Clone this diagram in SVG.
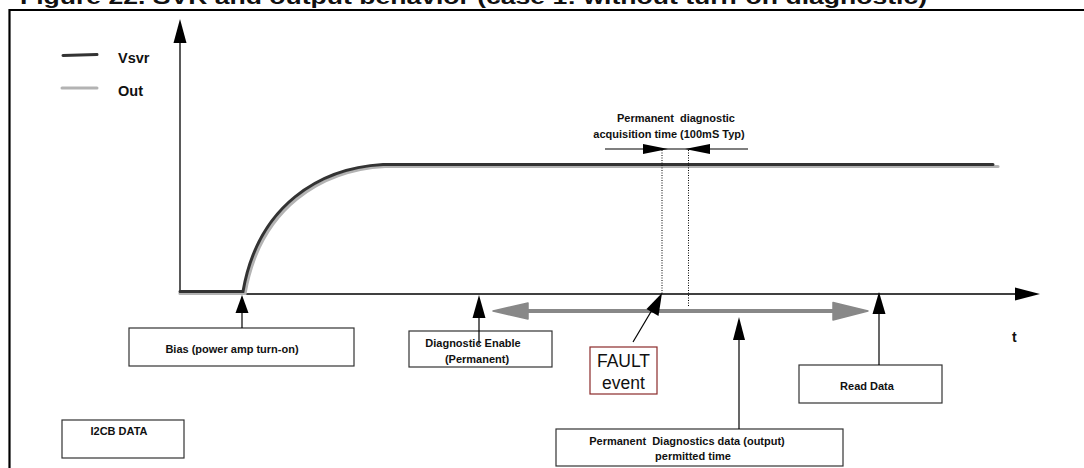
<svg xmlns="http://www.w3.org/2000/svg" width="1084" height="468" viewBox="0 0 1084 468">
<style>
.t{font-family:"Liberation Sans",Arial,sans-serif;font-weight:bold;fill:#111}
.box{fill:#fff;stroke:#333;stroke-width:1.2}
.ax{stroke:#000;stroke-width:1.3;fill:none}
.ptr{stroke:#000;stroke-width:1.2;fill:none}
.dot{stroke:#000;stroke-width:1;stroke-dasharray:1 1.5;fill:none}
</style>
<rect width="1084" height="468" fill="#fff"/>
<text class="t" x="20" y="3.5" font-size="20" textLength="907" lengthAdjust="spacingAndGlyphs">Figure 22. SVR and output behavior (case 1: without turn-on diagnostic)</text>
<path d="M9.5,468 V10 H1084" fill="none" stroke="#000" stroke-width="2.2"/>

<g id="legend">
<path d="M63,55.5 Q80,55 97,54.5" stroke="#333" stroke-width="3" fill="none" stroke-linecap="round"/>
<text class="t" x="118" y="63" font-size="14.5">Vsvr</text>
<path d="M62,88 H97" stroke="#b3b3b3" stroke-width="3" fill="none" stroke-linecap="round"/>
<text class="t" x="118" y="96" font-size="14.5">Out</text>
</g>

<g id="axes">
<path class="ax" d="M180,294 V40"/>
<polygon points="180,19 173.5,43 186.5,43" fill="#000"/>
<path class="ax" d="M180,294 H1016"/>
<polygon points="1040,294 1015,287.5 1015,300.5" fill="#000"/>
<text class="t" x="1012" y="342" font-size="14">t</text>
</g>

<g id="curves">
<path d="M180,293.5 H245 C260,207 322,170 385,166.5 H998" fill="none" stroke="#b3b3b3" stroke-width="3.2" stroke-linecap="round"/>
<path d="M180,291.5 H243 C258,205 320,168 383,164.5 H993" fill="none" stroke="#333" stroke-width="3" stroke-linecap="round"/>
</g>

<g id="acq">
<text class="t" x="676" y="122" font-size="11" text-anchor="middle">Permanent&#160; diagnostic</text>
<text class="t" x="669" y="138" font-size="11" text-anchor="middle">acquisition time (100mS Typ)</text>
<path d="M605,149 H748" stroke="#555" stroke-width="1.4"/>
<polygon points="668,149 643,144 643,154" fill="#000"/>
<polygon points="685,149 710,144 710,154" fill="#000"/>
<path class="dot" d="M662,150 V294"/>
<path class="dot" d="M688.5,150 V306"/>
</g>

<g id="window">
<path d="M522,311 H840" stroke="#888" stroke-width="4"/>
<polygon points="493,311 528,303 528,319" fill="#888" stroke="#888" stroke-width="1.5" stroke-linejoin="round"/>
<polygon points="868,311 833,302.5 833,320" fill="#888" stroke="#888" stroke-width="1.5" stroke-linejoin="round"/>
</g>

<g id="bias">
<rect class="box" x="129" y="328" width="225" height="38"/>
<text class="t" x="232" y="353" font-size="11" text-anchor="middle">Bias (power amp turn-on)</text>
<path class="ptr" d="M242,328 V310"/>
<polygon points="242,295 235.5,313 248.5,313" fill="#000"/>
</g>

<g id="diag-enable">
<rect class="box" x="409" y="331" width="143" height="36"/>
<text class="t" x="473" y="347" font-size="11" text-anchor="middle">Diagnostic Enable</text>
<text class="t" x="477" y="363" font-size="11" text-anchor="middle">(Permanent)</text>
<path class="ptr" d="M479,345 V312"/>
<polygon points="479,295 472.5,318 485.5,318" fill="#000"/>
</g>

<g id="fault">
<rect x="590" y="347" width="67" height="47" fill="#fff" stroke="#8b2a2a" stroke-width="1.2"/>
<text x="623.5" y="367" font-family="Liberation Sans,Arial,sans-serif" font-size="17.5" text-anchor="middle" fill="#111">FAULT</text>
<text x="623.5" y="389" font-family="Liberation Sans,Arial,sans-serif" font-size="17.5" text-anchor="middle" fill="#111">event</text>
<path class="ptr" d="M633,342 L652,310"/>
<polygon points="662,293 646.5,309 658.5,316" fill="#000"/>
</g>

<g id="perm-data">
<rect class="box" x="556" y="429" width="287" height="37"/>
<text class="t" x="687" y="445" font-size="11" text-anchor="middle">Permanent&#160; Diagnostics data (output)</text>
<text class="t" x="693" y="460" font-size="11" text-anchor="middle">permitted time</text>
<path class="ptr" d="M739,429 V335"/>
<polygon points="739,317 733,340 745,340" fill="#000"/>
</g>

<g id="read-data">
<rect class="box" x="799" y="365" width="143" height="38"/>
<text class="t" x="867" y="390" font-size="11" text-anchor="middle">Read Data</text>
<path class="ptr" d="M879,365 V310"/>
<polygon points="879,292 872.5,314 885.5,314" fill="#000"/>
</g>

<g id="i2cb">
<rect class="box" x="62" y="420" width="122" height="38"/>
<text class="t" x="119" y="435" font-size="11" text-anchor="middle">I2CB DATA</text>
</g>
</svg>
